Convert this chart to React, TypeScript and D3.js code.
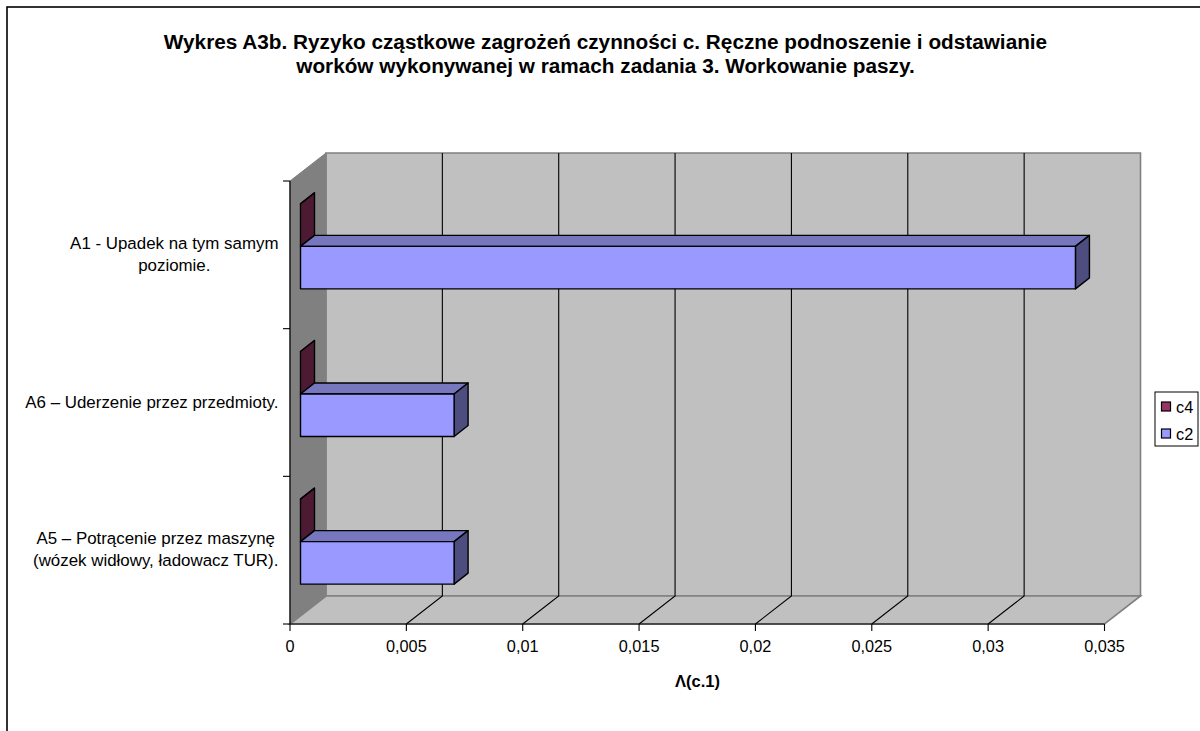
import React from "react";
import * as d3 from "d3";

const titleLines = [
  "Wykres A3b. Ryzyko cząstkowe zagrożeń czynności c. Ręczne podnoszenie i odstawianie",
  "worków wykonywanej w ramach zadania 3. Workowanie paszy.",
];
const categories = ["A1", "A6", "A5"];
const categoryLabels = [
  ["A1 - Upadek na tym samym", "poziomie."],
  ["A6 – Uderzenie przez przedmioty."],
  ["A5 – Potrącenie przez maszynę", "(wózek widłowy, ładowacz TUR)."],
];
const c4Values = [0, 0, 0];
const c2Values = [0.0333, 0.0066, 0.0066];
const xTicks = [0, 0.005, 0.01, 0.015, 0.02, 0.025, 0.03, 0.035];
const xTickLabels = ["0", "0,005", "0,01", "0,015", "0,02", "0,025", "0,03", "0,035"];
const axisTitle = "Λ(c.1)";
const legendItems = [
  { name: "c4", color: "#993366" },
  { name: "c2", color: "#9999FF" },
];

const FONT = "'Liberation Sans', Arial, sans-serif";
const LABEL_SIZE = 16.3;
const CAT_SIZE = 16.9;
const DX = 36, DY = -28;
const BDX = 14, BDY = -11;
const OFF_X = 10.5, OFF_Y = -8.5;
const BAR_H = 42.5;

const x = d3.scaleLinear().domain([0, 0.035]).range([290, 1104.5]);
const y = d3.scaleBand().domain(categories).range([181, 624]).padding(0);

function measure(text: string) {
  const ctx = document.createElement("canvas").getContext("2d")!;
  ctx.font = `${CAT_SIZE}px 'Liberation Sans'`;
  return ctx.measureText(text).width;
}

const poly = (pts: number[][]) => pts.map((p) => p.join(",")).join(" ");

function Bar3D({ x0, x1, yTop, h, color, top, side }: any) {
  const faces = [
    [[x0, yTop], [x1, yTop], [x1 + BDX, yTop + BDY], [x0 + BDX, yTop + BDY]],
    [[x1, yTop], [x1 + BDX, yTop + BDY], [x1 + BDX, yTop + BDY + h], [x1, yTop + h]],
  ];
  return (
    <g stroke="#000" strokeWidth={1.4} strokeLinejoin="round">
      <polygon points={poly(faces[0])} fill={top} />
      <polygon points={poly(faces[1])} fill={side} />
      {x1 > x0 && <rect x={x0} y={yTop} width={x1 - x0} height={h} fill={color} />}
    </g>
  );
}

export default function App() {
  const [r0, r1] = x.range();
  const [yT, yB] = [181, 624];
  const yEdges = [...categories.map((c) => y(c)!), yB];
  return (
    <svg
      width={1200}
      height={731}
      style={{ position: "absolute", left: 0, top: 0, background: "#fff" }}
      fontFamily={FONT}
    >
      <rect x={7} y={7} width={1300} height={800} fill="#fff" stroke="#000" strokeWidth={1.6} />

      {titleLines.map((t, i) => (
        <text key={i} x={605.5} y={49 + i * 24} textAnchor="middle" fontSize={20.75} fontWeight="bold" fill="#000">
          {t}
        </text>
      ))}

      {/* walls */}
      <polygon
        points={poly([[r0 + DX, yT + DY], [r1 + DX, yT + DY], [r1 + DX, yB + DY], [r0 + DX, yB + DY]])}
        fill="#C0C0C0"
        stroke="#808080"
        strokeWidth={1.6}
      />
      <polygon
        points={poly([[r0, yT], [r0 + DX, yT + DY], [r0 + DX, yB + DY], [r0, yB]])}
        fill="#808080"
        stroke="#808080"
        strokeWidth={1}
      />
      <polygon
        points={poly([[r0, yB], [r1, yB], [r1 + DX, yB + DY], [r0 + DX, yB + DY]])}
        fill="#C0C0C0"
        stroke="#808080"
        strokeWidth={1.6}
      />

      {/* grid */}
      {xTicks.slice(1, -1).map((t) => (
        <polyline
          key={t}
          points={poly([[x(t), yB], [x(t) + DX, yB + DY], [x(t) + DX, yT + DY]])}
          fill="none"
          stroke="#000"
          strokeWidth={1.1}
        />
      ))}

      {/* axes */}
      <line x1={r0} x2={r0} y1={yT} y2={yB} stroke="#000" strokeWidth={1.2} />
      <line x1={r0} x2={r1} y1={yB} y2={yB} stroke="#000" strokeWidth={1.2} />
      {yEdges.map((v) => (
        <line key={v} x1={r0 - 7} x2={r0} y1={v} y2={v} stroke="#000" strokeWidth={1.1} />
      ))}
      {xTicks.map((t, i) => (
        <g key={t}>
          <line x1={x(t)} x2={x(t)} y1={yB} y2={yB + 7} stroke="#000" strokeWidth={1.1} />
          <text x={x(t)} y={652} textAnchor="middle" fontSize={LABEL_SIZE} fill="#000">
            {xTickLabels[i]}
          </text>
        </g>
      ))}

      {/* bars */}
      {categories.map((c, i) => {
        const mid = y(c)! + y.bandwidth() / 2 + OFF_Y;
        const x0 = x(0) + OFF_X;
        const scale = (v: number) => x(v) + OFF_X;
        return (
          <g key={c}>
            <Bar3D x0={x0} x1={scale(c4Values[i])} yTop={mid - BAR_H} h={BAR_H} color="#993366" top="#7A2952" side="#4D1A33" />
            <Bar3D x0={x0} x1={scale(c2Values[i])} yTop={mid} h={BAR_H} color="#9999FF" top="#7777C0" side="#4D4D80" />
          </g>
        );
      })}

      {/* category labels */}
      {categoryLabels.map((lines, i) => {
        const cx = 278.5 - Math.max(...lines.map(measure)) / 2;
        const mid = y(categories[i])! + y.bandwidth() / 2;
        const y0 = mid + 5 - ((lines.length - 1) * 21.5) / 2;
        return lines.map((l, j) => (
          <text key={l} x={cx} y={y0 + j * 21.5} textAnchor="middle" fontSize={CAT_SIZE} fill="#000">
            {l}
          </text>
        ));
      })}

      <text x={697.5} y={687} textAnchor="middle" fontSize={16.5} fontWeight="bold" fill="#000">
        {axisTitle}
      </text>

      {/* legend */}
      <rect x={1155} y={392} width={43} height={54} fill="#fff" stroke="#000" strokeWidth={1} />
      {legendItems.map((it, i) => (
        <g key={it.name}>
          <rect x={1161.5} y={402 + i * 27} width={9} height={9} fill={it.color} stroke="#000" strokeWidth={1.2} />
          <text x={1176} y={412.5 + i * 27} fontSize={LABEL_SIZE} fill="#000">
            {it.name}
          </text>
        </g>
      ))}
    </svg>
  );
}
